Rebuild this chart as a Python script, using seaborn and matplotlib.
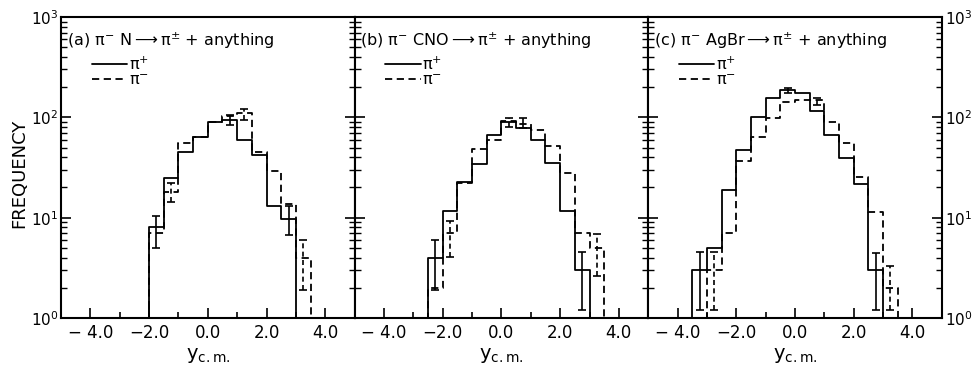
import numpy as np
import pandas as pd
import matplotlib
matplotlib.use("Agg")
import matplotlib.pyplot as plt
import seaborn as sns
from matplotlib.ticker import FixedLocator, LogLocator, NullFormatter, LogFormatterMathtext

sns.set_style("ticks")
plt.rcParams["font.family"] = ["DejaVu Sans"]
plt.rcParams["mathtext.default"] = "regular"
for k in ["text.color", "axes.labelcolor", "xtick.color", "ytick.color", "axes.edgecolor"]:
    plt.rcParams[k] = "black"

# ---- data -------------------------------------------------------------
bin_edges = [-4.0, -3.5, -3.0, -2.5, -2.0, -1.5, -1.0, -0.5, 0.0,
             0.5, 1.0, 1.5, 2.0, 2.5, 3.0, 3.5, 4.0]

panel_titles = [r"(a) $\pi^{-}$ N$\longrightarrow$$\pi^{\pm}$ + anything",
                r"(b) $\pi^{-}$ CNO$\longrightarrow$$\pi^{\pm}$ + anything",
                r"(c) $\pi^{-}$ AgBr$\longrightarrow$$\pi^{\pm}$ + anything"]

# counts per bin (16 bins)
pip_N    = [0, 0, 0, 0, 8, 25, 45, 63, 90, 95, 59, 42, 13, 9.6, 0, 0]
pim_N    = [0, 0, 0, 0, 7, 18, 55, 64, 89, 104, 110, 45, 29, 13.6, 4, 0]
pip_CNO  = [0, 0, 0, 4, 11.6, 22.5, 34.5, 66, 90, 78, 59, 35, 11.6, 3, 0, 0]
pim_CNO  = [0, 0, 0, 2, 7, 22, 48, 60, 91, 86, 74, 52, 28, 7, 5, 0]
pip_AgBr = [0, 3, 5, 18.7, 47, 101, 156, 189, 175, 116, 66, 39, 21.8, 3, 0, 0]
pim_AgBr = [0, 0, 3, 7, 37, 64, 98, 141, 150, 150, 89, 55, 25.4, 11.4, 2, 0]

# error bars: bin centre, low, high, dashed?
err_N    = [(-1.75, 5, 10.5, False), (-1.25, 14.3, 22.2, True), (0.75, 83, 106.5, False),
            (1.25, 95, 121, True), (2.75, 6.8, 13, False), (3.25, 1.9, 6.0, True)]
err_CNO  = [(-2.25, 1.9, 5.95, False), (-1.75, 4.1, 9.2, True), (0.25, 80.5, 98.5, True),
            (0.75, 78.6, 98.5, False), (2.75, 1.2, 4.55, False), (3.25, 2.6, 6.9, True)]
err_AgBr = [(-3.25, 1.2, 4.55, False), (-2.75, 1.2, 4.6, True), (-0.25, 175, 196, False),
            (0.75, 134, 156, True), (2.75, 1.2, 4.45, False), (3.25, 1.2, 3.3, True)]

x_major = [-4.0, -2.0, 0.0, 2.0, 4.0]
x_labels = ["\u2212 4.0", "\u22122.0", "0.0", "2.0", "4.0"]
x_minor = [-3.0, -1.0, 1.0, 3.0]

panels = [(pip_N, pim_N, err_N), (pip_CNO, pim_CNO, err_CNO), (pip_AgBr, pim_AgBr, err_AgBr)]

# ---- figure -----------------------------------------------------------
fig, axes = plt.subplots(1, 3, figsize=(9.74, 3.66), dpi=100, sharey=True)
fig.subplots_adjust(left=0.0626, right=0.967, bottom=0.131, top=0.9536, wspace=0)

for i, (ax, (pp, pm, errs)) in enumerate(zip(axes, panels)):
    df = pd.DataFrame({"y_cm": bin_edges,
                       "pip": pp + [pp[-1]],
                       "pim": pm + [pm[-1]]})
    sns.lineplot(data=df, x="y_cm", y="pip", ax=ax, color="black", lw=1.3,
                 drawstyle="steps-post", estimator=None, sort=False,
                 label=r"$\pi^{+}$")
    sns.lineplot(data=df, x="y_cm", y="pim", ax=ax, color="black", lw=1.3,
                 drawstyle="steps-post", estimator=None, sort=False,
                 linestyle="--", label=r"$\pi^{-}$")
    ax.lines[-1].set_dashes([4, 2.5])

    for xc, lo, hi, dashed in errs:
        eb = ax.errorbar([xc], [lo], yerr=[[0], [hi - lo]], fmt="none",
                         ecolor="black", elinewidth=1.2, capsize=3, capthick=1.2)
        if dashed:
            eb[2][0].set_linestyle((0, (3, 2)))

    ax.set_yscale("log", nonpositive="clip")
    ax.set_ylim(1, 1000)
    ax.set_xlim(-5, 5)

    ax.xaxis.set_major_locator(FixedLocator(x_major))
    ax.set_xticklabels(x_labels)
    ax.xaxis.set_minor_locator(FixedLocator(x_minor))
    ax.tick_params(axis="x", which="major", direction="in", length=7, width=1.2,
                   labelsize=12, pad=4, top=False)
    ax.tick_params(axis="x", which="minor", direction="in", length=4, width=1.2, top=False)

    ax.yaxis.set_major_locator(LogLocator(base=10))
    ax.yaxis.set_minor_locator(LogLocator(base=10, subs=[2, 3, 4, 5, 6, 7, 8, 9]))
    ax.yaxis.set_minor_formatter(NullFormatter())
    ax.yaxis.set_major_formatter(LogFormatterMathtext())
    ax.tick_params(axis="y", which="major", direction="in", length=7, width=1.2,
                   left=True, right=True, labelsize=11, pad=2)
    ax.tick_params(axis="y", which="minor", direction="in", length=4, width=1.0,
                   left=True, right=True)
    ax.tick_params(axis="y", labelleft=(i == 0), labelright=(i == 2))

    for s in ax.spines.values():
        s.set_linewidth(1.5)
        s.set_color("black")

    ax.set_xlabel(r"y$_{c.m.}$", fontsize=14, labelpad=3)
    ax.set_ylabel("")

    ax.text(0.02, 0.92, panel_titles[i], transform=ax.transAxes,
            fontsize=11.5, va="center", ha="left")
    ax.legend(loc="upper left", bbox_to_anchor=(0.105, 0.872), frameon=False,
              handlelength=2.2, handletextpad=0.1, labelspacing=0.0,
              borderpad=0, borderaxespad=0, fontsize=11.5)

fig.text(0.02, 0.527, "FREQUENCY", rotation=90, fontsize=13,
         ha="center", va="center")

fig.savefig("out.png", dpi=100)
